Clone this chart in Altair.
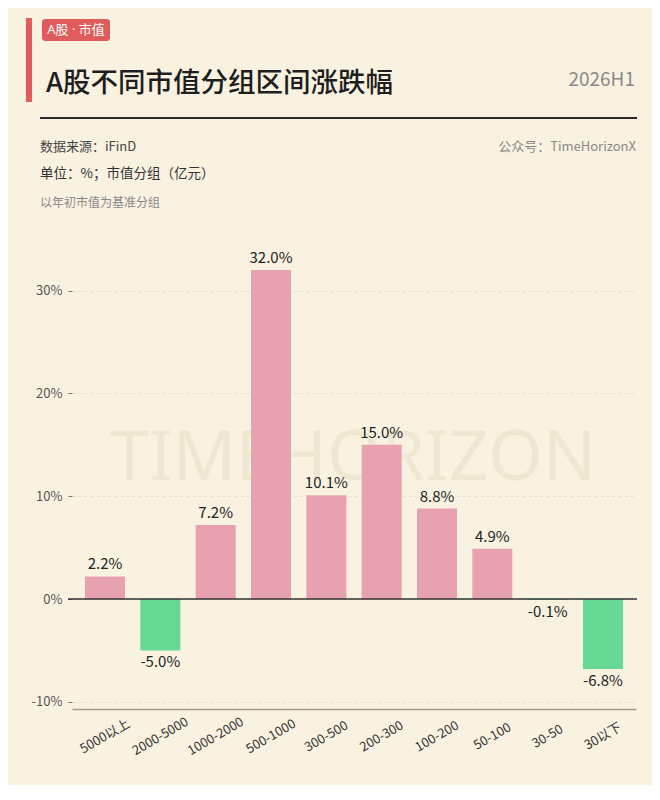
import altair as alt
import pandas as pd

# ---- data ----
CATEGORIES = ["5000以上", "2000-5000", "1000-2000", "500-1000", "300-500",
              "200-300", "100-200", "50-100", "30-50", "30以下"]
VALUES = [2.2, -5.0, 7.2, 32.0, 10.1, 15.0, 8.8, 4.9, -0.1, -6.8]
Y_TICKS = [-10, 0, 10, 20, 30]

TAG = "A股 · 市值"
TITLE = "A股不同市值分组区间涨跌幅"
PERIOD = "2026H1"
SOURCE = "数据来源：iFinD"
ACCOUNT = "公众号：TimeHorizonX"
UNIT = "单位：%；市值分组（亿元）"
NOTE = "以年初市值为基准分组"
WATERMARK = "TIMEHORIZON"

BG = "#FAF2E1"
PINK = "#E8A1B0"
GREEN = "#66D994"
FONT = "Noto Sans CJK SC"

df = pd.DataFrame({
    "cat": CATEGORIES,
    "val": VALUES,
    "lab": [f"{v:.1f}%" for v in VALUES],
    "dir": ["up" if v >= 0 else "down" for v in VALUES],
})

W, H = 564, 479

x_enc = alt.X("cat:N", sort=CATEGORIES, title=None,
              scale=alt.Scale(paddingInner=0.277, paddingOuter=0.235),
              axis=alt.Axis(labelAngle=-30, labelAlign="center", labelBaseline="middle",
                            labelPadding=27, ticks=False, domainColor="#A39C8E",
                            domainWidth=1.5, labelColor="#333333", labelFontSize=13,
                            labelFont=FONT, labelOverlap=False, labelFlush=False,
                            labelBound=False))
y_enc = alt.Y("val:Q", title=None,
              scale=alt.Scale(domain=[-10.7, 35.9], nice=False, zero=False),
              axis=alt.Axis(values=Y_TICKS, labelExpr="datum.value + '%'",
                            domain=False, grid=True, gridDash=[3, 3],
                            gridColor="#E6DCC8", gridWidth=1, tickSize=4,
                            tickColor="#777777", labelPadding=6,
                            labelColor="#555555", labelFontSize=13, labelFont=FONT))

base = alt.Chart(df)


def txt(s, x, y, size, color, align="left", weight="normal", font=FONT):
    return alt.Chart(pd.DataFrame({"t": [s]})).mark_text(
        align=align, baseline="middle", fontSize=size, color=color,
        fontWeight=weight, font=font
    ).encode(x=alt.value(x), y=alt.value(y), text="t:N")


watermark = txt(WATERMARK, 281, 229, 70, "#F0E7D3", align="center", font="Noto Sans")

bars = base.mark_bar().encode(
    x=x_enc, y=y_enc, y2=alt.datum(0),
    color=alt.Color("dir:N", scale=alt.Scale(domain=["up", "down"], range=[PINK, GREEN]),
                    legend=None),
)

zero = alt.Chart(pd.DataFrame({"z": [0]})).mark_rule(color="#333333", strokeWidth=1.5).encode(
    y=alt.Y("z:Q"), x=alt.value(-4), x2=alt.value(W + 1)
)

pos_lab = base.transform_filter("datum.val >= 0").mark_text(
    baseline="bottom", dy=-4, fontSize=15, color="#222222", font=FONT
).encode(x=alt.X("cat:N", sort=CATEGORIES), y="val:Q", text="lab:N")

neg_lab = base.transform_filter("datum.val < 0").mark_text(
    baseline="top", dy=5, fontSize=15, color="#222222", font=FONT
).encode(x=alt.X("cat:N", sort=CATEGORIES), y="val:Q", text="lab:N")

one = pd.DataFrame({"k": [1]})
red_bar = alt.Chart(one).mark_rect(color="#E05C5C").encode(
    x=alt.value(-46), x2=alt.value(-40), y=alt.value(-212), y2=alt.value(-128)
)
tag_box = alt.Chart(one).mark_rect(color="#E05C5C", cornerRadius=3).encode(
    x=alt.value(-30), x2=alt.value(38), y=alt.value(-211), y2=alt.value(-189)
)
tag_txt = txt(TAG, 4, -200, 13, "#FFFFFF", align="center", font="Noto Sans, Noto Sans CJK SC")
title = txt(TITLE, -26, -146, 27.5, "#1E1E1E", weight=500)
period = txt(PERIOD, 563, -150, 19, "#8A8A8A", align="right")
hr = alt.Chart(one).mark_rule(color="#2B2B2B", strokeWidth=2).encode(
    x=alt.value(-32), x2=alt.value(565), y=alt.value(-112)
)
source = txt(SOURCE, -32, -83, 13, "#444444")
account = txt(ACCOUNT, 564, -83, 13, "#888888", align="right")
unit = txt(UNIT, -32, -56, 13.5, "#333333")
note = txt(NOTE, -32, -27, 12, "#888888")

chart = alt.layer(
    watermark, bars, zero, pos_lab, neg_lab,
    red_bar, tag_box, tag_txt, title, period, hr, source, account, unit, note
).properties(
    width=W, height=H, background=BG,
    padding={"left": 64, "top": 222, "right": 16, "bottom": 76},
    autosize=alt.AutoSizeParams(type="none"),
).configure_view(strokeWidth=0)

chart.save("out.html", embed_options={"renderer": "svg", "actions": False})
